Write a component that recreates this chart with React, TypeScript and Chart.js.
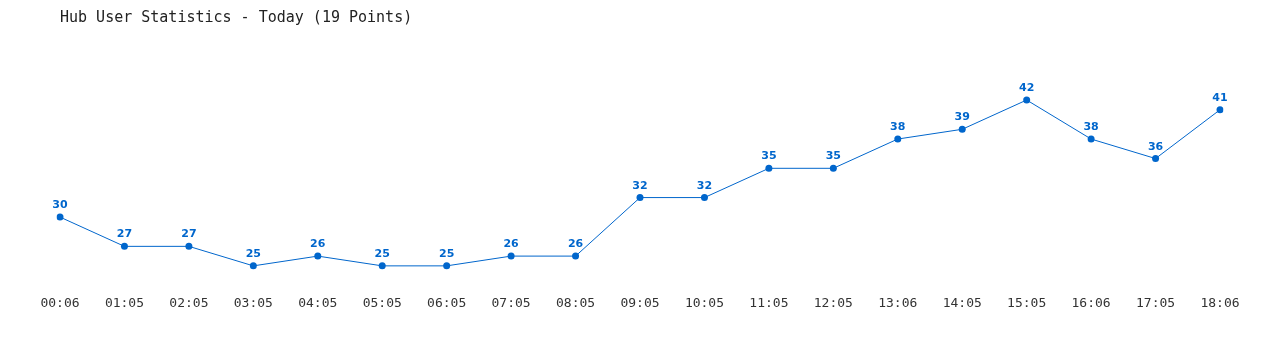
import React, { useEffect, useRef } from "react";
import { Chart, registerables } from "chart.js";

Chart.register(...registerables);

const TITLE = "Hub User Statistics - Today (19 Points)";
const categories = ["00:06","01:05","02:05","03:05","04:05","05:05","06:05","07:05","08:05","09:05","10:05","11:05","12:05","13:06","14:05","15:05","16:06","17:05","18:06"];
const users = [30,27,27,25,26,25,25,26,26,32,32,35,35,38,39,42,38,36,41];

const BLUE = "#0066cc";

const labelsPlugin = {
  id: "pointLabels",
  afterDatasetsDraw(chart: any) {
    const ctx = chart.ctx;
    const meta = chart.getDatasetMeta(0);
    ctx.save();
    ctx.font = "bold 11px 'DejaVu Sans'";
    ctx.fillStyle = BLUE;
    ctx.textAlign = "center";
    ctx.textBaseline = "alphabetic";
    meta.data.forEach((pt: any, i: number) => {
      ctx.fillText(String(users[i]), pt.x, pt.y - 9);
    });
    ctx.restore();
  },
};

const titlePlugin = {
  id: "leftTitle",
  afterDraw(chart: any) {
    const ctx = chart.ctx;
    ctx.save();
    ctx.font = "15px 'DejaVu Sans Mono'";
    ctx.fillStyle = "#222";
    ctx.textAlign = "left";
    ctx.textBaseline = "middle";
    ctx.fillText(TITLE, chart.chartArea.left, 18);
    ctx.restore();
  },
};

export default function App() {
  const ref = useRef<HTMLCanvasElement>(null);
  useEffect(() => {
    const chart = new Chart(ref.current!, {
      type: "line",
      data: {
        labels: categories,
        datasets: [
          {
            data: users,
            borderColor: BLUE,
            backgroundColor: BLUE,
            borderWidth: 1,
            pointRadius: 3.5,
            pointHoverRadius: 3.5,
            pointBackgroundColor: BLUE,
            pointBorderWidth: 0,
            tension: 0,
          },
        ],
      },
      options: {
        animation: false,
        responsive: false,
        devicePixelRatio: 1,
        layout: { padding: { left: 60, right: 60, top: 61, bottom: 36 } },
        plugins: { legend: { display: false }, tooltip: { enabled: false }, title: { display: false } },
        scales: {
          x: {
            grid: { display: false },
            border: { display: false },
            ticks: {
              color: "#333",
              font: { family: "'DejaVu Sans Mono'", size: 13 },
              padding: 3,
              maxRotation: 0,
              autoSkip: false,
            },
          },
          y: { display: false, min: 23.1, max: 46 },
        },
      },
      plugins: [labelsPlugin, titlePlugin],
    });
    return () => chart.destroy();
  }, []);
  return (
    <div style={{ position: "fixed", left: 0, top: 0, width: 1280, height: 350, background: "#fff" }}>
      <canvas ref={ref} width={1280} height={350} style={{ width: 1280, height: 350 }} />
    </div>
  );
}
